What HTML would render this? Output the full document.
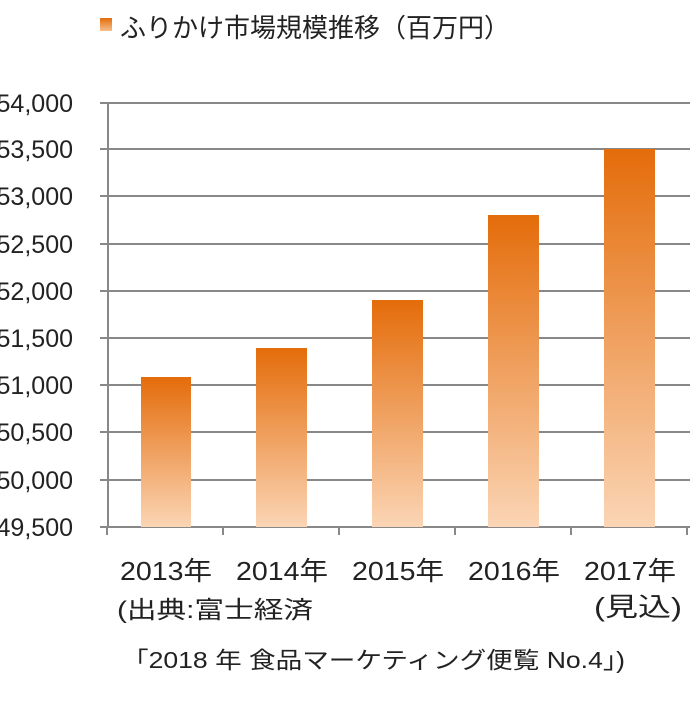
<!DOCTYPE html>
<html><head><meta charset="utf-8"><style>
body{margin:0;background:#fff;}
svg text{font-family:"Liberation Sans","Noto Sans CJK JP",sans-serif;fill:#222;}
</style></head><body>
<svg width="696" height="696" viewBox="0 0 696 696" xmlns="http://www.w3.org/2000/svg">
<defs>
<linearGradient id="g" x1="0" y1="0" x2="0" y2="1">
<stop offset="0" stop-color="#e46c0a"/>
<stop offset="1" stop-color="#fbd5b5"/>
</linearGradient>
<linearGradient id="g2" x1="0" y1="0" x2="0" y2="1">
<stop offset="0" stop-color="#e46c0a"/>
<stop offset="1" stop-color="#f6bf8c"/>
</linearGradient>
</defs>
<rect x="100" y="18" width="12" height="13" fill="url(#g2)"/>
<text x="120" y="37" font-size="26">ふりかけ市場規模推移（百万円）</text>
<g stroke="#888" stroke-width="2">
<line x1="100" y1="103" x2="690" y2="103"/>
<line x1="100" y1="149" x2="690" y2="149"/>
<line x1="100" y1="196" x2="690" y2="196"/>
<line x1="100" y1="244" x2="690" y2="244"/>
<line x1="100" y1="291" x2="690" y2="291"/>
<line x1="100" y1="338" x2="690" y2="338"/>
<line x1="100" y1="385" x2="690" y2="385"/>
<line x1="100" y1="432" x2="690" y2="432"/>
<line x1="100" y1="480" x2="690" y2="480"/>
<line x1="100" y1="527" x2="690" y2="527"/>
<line x1="108" y1="103" x2="108" y2="527"/>
<line x1="107" y1="527" x2="107" y2="535"/>
<line x1="223" y1="527" x2="223" y2="535"/>
<line x1="339" y1="527" x2="339" y2="535"/>
<line x1="455" y1="527" x2="455" y2="535"/>
<line x1="571" y1="527" x2="571" y2="535"/>
<line x1="687" y1="527" x2="687" y2="535"/>
</g>
<rect x="141" y="377" width="50" height="150" fill="url(#g)"/>
<rect x="256" y="348" width="51" height="179" fill="url(#g)"/>
<rect x="372" y="300" width="51" height="227" fill="url(#g)"/>
<rect x="488" y="215" width="51" height="312" fill="url(#g)"/>
<rect x="604" y="149" width="51" height="378" fill="url(#g)"/>
<g font-size="25" text-anchor="end">
<text x="73" y="112">54,000</text>
<text x="73" y="158">53,500</text>
<text x="73" y="205">53,000</text>
<text x="73" y="253">52,500</text>
<text x="73" y="300">52,000</text>
<text x="73" y="347">51,500</text>
<text x="73" y="394">51,000</text>
<text x="73" y="441">50,500</text>
<text x="73" y="489">50,000</text>
<text x="73" y="536">49,500</text>
</g>
<g font-size="26" text-anchor="middle">
<text x="166" y="580" textLength="92" lengthAdjust="spacingAndGlyphs">2013年</text>
<text x="282" y="580" textLength="92" lengthAdjust="spacingAndGlyphs">2014年</text>
<text x="398" y="580" textLength="92" lengthAdjust="spacingAndGlyphs">2015年</text>
<text x="514" y="580" textLength="92" lengthAdjust="spacingAndGlyphs">2016年</text>
<text x="630" y="580" textLength="92" lengthAdjust="spacingAndGlyphs">2017年</text>
<text x="638" y="616" textLength="88" lengthAdjust="spacingAndGlyphs">(見込)</text>
</g>
<text x="117" y="618" font-size="24" textLength="196" lengthAdjust="spacingAndGlyphs">(出典:富士経済</text>
<text x="122" y="668" font-size="23" textLength="503" lengthAdjust="spacingAndGlyphs">「2018 年  食品マーケティング便覧  No.4」)</text>
</svg>
</body></html>
